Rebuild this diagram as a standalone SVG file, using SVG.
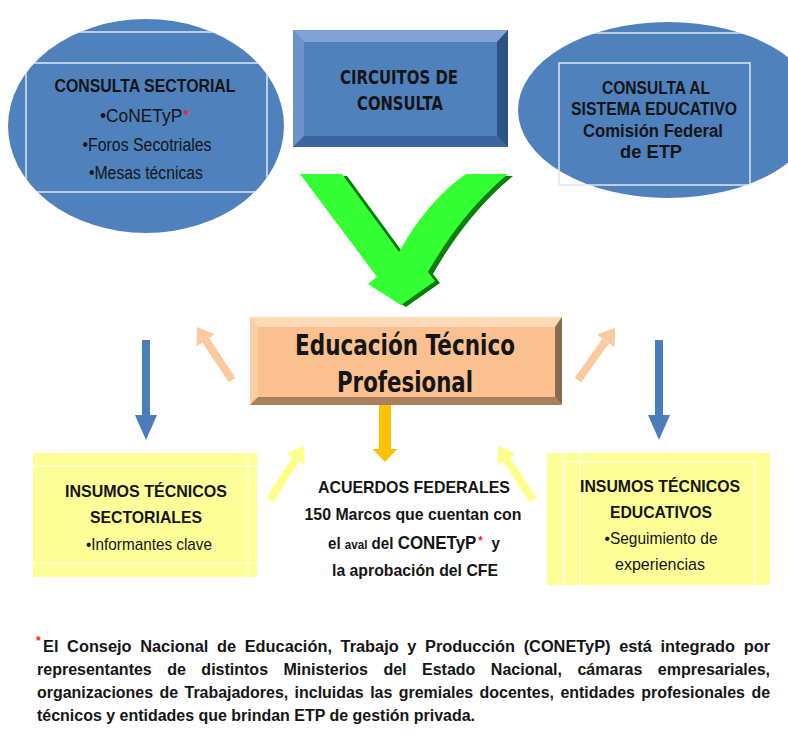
<svg xmlns="http://www.w3.org/2000/svg" width="788" height="742" viewBox="0 0 788 742">
<defs>
<style>
.b{font-family:"Liberation Sans",Arial,sans-serif;font-weight:bold;fill:#151515}
.r{font-family:"Liberation Sans",Arial,sans-serif;font-weight:normal;fill:#151515}
.t{font-family:"DejaVu Sans","Liberation Sans",sans-serif;font-weight:bold;fill:#151515}
.red{fill:#ff1a1a;font-family:"Liberation Sans",Arial,sans-serif;font-weight:bold}
.ell{fill:#4f81bd}
.wl{stroke:#dfe8f4;stroke-width:1.5;fill:none}
.yl{stroke:#ffffff;stroke-width:1.2;fill:none;opacity:0.8}
.ybox{fill:#ffff99}
.fn{font-family:"Liberation Sans",Arial,sans-serif;font-weight:bold;fill:#151515;font-size:16px}
</style>
<clipPath id="cl"><ellipse cx="146" cy="126" rx="138" ry="107"/></clipPath>
<clipPath id="cr"><ellipse cx="668" cy="110" rx="150" ry="88"/></clipPath>
<marker id="mBlue" markerUnits="userSpaceOnUse" markerWidth="25" markerHeight="22" viewBox="0 0 25 22" refX="0" refY="11" orient="auto"><path d="M0,0 L25,11 L0,22 Z" fill="#4a7ebb"/></marker>
<marker id="mPeach" markerUnits="userSpaceOnUse" markerWidth="16" markerHeight="22" viewBox="0 0 16 22" refX="0" refY="11" orient="auto"><path d="M0,0 L16,11 L0,22 Z" fill="#fcca9c"/></marker>
<marker id="mYellow" markerUnits="userSpaceOnUse" markerWidth="16" markerHeight="22" viewBox="0 0 16 22" refX="0" refY="11" orient="auto"><path d="M0,0 L16,11 L0,22 Z" fill="#ffff8c"/></marker>
<marker id="mOrange" markerUnits="userSpaceOnUse" markerWidth="13" markerHeight="25" viewBox="0 0 13 25" refX="0" refY="12.5" orient="auto"><path d="M0,0 L13,12.5 L0,25 Z" fill="#ffc000"/></marker>
</defs>
<rect width="788" height="742" fill="#ffffff"/>

<g id="n-consulta-sectorial">
<ellipse class="ell" cx="146" cy="126" rx="138" ry="107"/>
<g clip-path="url(#cl)">
<line class="wl" x1="0" y1="32" x2="300" y2="32"/>
<line class="wl" x1="0" y1="63" x2="300" y2="63"/>
<line class="wl" x1="0" y1="192" x2="300" y2="192"/>
<line class="wl" x1="26" y1="63" x2="26" y2="192"/>
<line class="wl" x1="267" y1="63" x2="267" y2="192"/>
</g>
<text class="b" x="145" y="92" font-size="18" text-anchor="middle" textLength="181" lengthAdjust="spacingAndGlyphs">CONSULTA SECTORIAL</text>
<text class="r" x="100" y="122" font-size="18" textLength="89" lengthAdjust="spacingAndGlyphs">•CoNETyP<tspan class="red" font-size="13" dx="2" dy="-3">*</tspan></text>
<text class="r" x="147" y="151" font-size="18" text-anchor="middle" textLength="129" lengthAdjust="spacingAndGlyphs">•Foros Secotriales</text>
<text class="r" x="146" y="179" font-size="18" text-anchor="middle" textLength="114" lengthAdjust="spacingAndGlyphs">•Mesas técnicas</text>
</g>

<g id="n-circuitos">
<rect x="293" y="30" width="215" height="117" fill="#4f81bd"/>
<polygon points="293,30 508,30 497,42 304,42" fill="#7fa3d6"/>
<polygon points="293,30 304,42 304,136 293,147" fill="#6c94ca"/>
<polygon points="508,30 508,147 497,136 497,42" fill="#2f5285"/>
<polygon points="293,147 508,147 497,136 304,136" fill="#3c649d"/>
<rect x="304" y="42" width="193" height="94" fill="#4f81bd"/>
<text class="t" x="399" y="84" font-size="19" text-anchor="middle" textLength="118" lengthAdjust="spacingAndGlyphs">CIRCUITOS DE</text>
<text class="t" x="400" y="110" font-size="19" text-anchor="middle" textLength="86" lengthAdjust="spacingAndGlyphs">CONSULTA</text>
</g>

<g id="n-consulta-educativo">
<ellipse class="ell" cx="668" cy="110" rx="150" ry="88"/>
<g clip-path="url(#cr)">
<line class="wl" x1="500" y1="33" x2="788" y2="33"/>
</g>
<rect x="559" y="63" width="191" height="122" fill="none" stroke="#dfe8f4" stroke-width="1.5"/>
<text class="b" x="656" y="94" font-size="18" text-anchor="middle" textLength="108" lengthAdjust="spacingAndGlyphs">CONSULTA AL</text>
<text class="b" x="654" y="115" font-size="18" text-anchor="middle" textLength="166" lengthAdjust="spacingAndGlyphs">SISTEMA EDUCATIVO</text>
<text class="b" x="653" y="137" font-size="18" text-anchor="middle" textLength="140" lengthAdjust="spacingAndGlyphs">Comisión Federal</text>
<text class="b" x="651" y="158" font-size="18" text-anchor="middle" textLength="62" lengthAdjust="spacingAndGlyphs">de ETP</text>
</g>

<g id="n-etp">
<rect x="250" y="317" width="312" height="88" fill="#fac090"/>
<polygon points="250,317 562,317 555,327 258,327" fill="#fdd9b8"/>
<polygon points="250,317 258,327 258,397 250,405" fill="#fbcfa6"/>
<polygon points="562,317 562,405 555,397 555,327" fill="#8a6a4e"/>
<polygon points="250,405 562,405 555,397 258,397" fill="#a8815c"/>
<rect x="258" y="327" width="297" height="70" fill="#fac090"/>
<text class="t" x="405" y="355" font-size="28" text-anchor="middle" textLength="220" lengthAdjust="spacingAndGlyphs">Educación Técnico</text>
<text class="t" x="405" y="392" font-size="28" text-anchor="middle" textLength="136" lengthAdjust="spacingAndGlyphs">Profesional</text>
</g>

<g id="n-insumos-sectoriales">
<rect class="ybox" x="33" y="453" width="224" height="124"/>
<line class="yl" x1="33" y1="466" x2="257" y2="466"/>
<line class="yl" x1="33" y1="563" x2="257" y2="563"/>
<line class="yl" x1="248" y1="453" x2="248" y2="577"/>
<text class="b" x="146" y="497" font-size="17" text-anchor="middle" textLength="162" lengthAdjust="spacingAndGlyphs">INSUMOS TÉCNICOS</text>
<text class="b" x="146" y="523" font-size="17" text-anchor="middle" textLength="112" lengthAdjust="spacingAndGlyphs">SECTORIALES</text>
<text class="r" x="149" y="550" font-size="17" text-anchor="middle" textLength="126" lengthAdjust="spacingAndGlyphs">•Informantes clave</text>
</g>

<g id="n-acuerdos">
<text class="b" x="414" y="493" font-size="17" text-anchor="middle" textLength="192" lengthAdjust="spacingAndGlyphs">ACUERDOS FEDERALES</text>
<text class="b" x="413" y="520" font-size="17" text-anchor="middle" textLength="217" lengthAdjust="spacingAndGlyphs">150 Marcos que cuentan con</text>
<text class="b" x="328" y="549" font-size="17" textLength="172" lengthAdjust="spacingAndGlyphs">el <tspan font-size="13">aval</tspan> del <tspan font-size="19">CONETyP</tspan><tspan class="red" font-size="13" dx="2" dy="-4">*</tspan><tspan dy="4" dx="10">y</tspan></text>
<text class="b" x="415" y="576" font-size="17" text-anchor="middle" textLength="166" lengthAdjust="spacingAndGlyphs">la aprobación del CFE</text>
</g>

<g id="n-insumos-educativos">
<rect class="ybox" x="547" y="453" width="223" height="132"/>
<line class="yl" x1="563" y1="453" x2="563" y2="585"/>
<line class="yl" x1="580" y1="453" x2="580" y2="585"/>
<rect class="yl" x="565" y="462" width="190" height="130"/>
<text class="b" x="660" y="492" font-size="17" text-anchor="middle" textLength="160" lengthAdjust="spacingAndGlyphs">INSUMOS TÉCNICOS</text>
<text class="b" x="661" y="518" font-size="17" text-anchor="middle" textLength="102" lengthAdjust="spacingAndGlyphs">EDUCATIVOS</text>
<text class="r" x="661" y="544" font-size="17" text-anchor="middle" textLength="113" lengthAdjust="spacingAndGlyphs">•Seguimiento de</text>
<text class="r" x="660" y="570" font-size="17" text-anchor="middle" textLength="90" lengthAdjust="spacingAndGlyphs">experiencias</text>
</g>

<g id="connectors">
<path d="M300,174 L342,174 L399,252 Q428,200 466,174 L508,174 Q462,212 428,272 L435,281 L401,305 L368,284 L377,277 Z" fill="#0b7d0b" transform="translate(5,2)"/>
<path d="M300,174 L342,174 L399,252 Q428,200 466,174 L508,174 Q462,212 428,272 L435,281 L401,305 L368,284 L377,277 Z" fill="#33ff33"/>
<line x1="146" y1="340" x2="146" y2="415" stroke="#4a7ebb" stroke-width="8" marker-end="url(#mBlue)"/>
<line x1="659" y1="340" x2="659" y2="415" stroke="#4a7ebb" stroke-width="8" marker-end="url(#mBlue)"/>
<line x1="232" y1="380" x2="205.8" y2="340.3" stroke="#fcca9c" stroke-width="8" marker-end="url(#mPeach)"/>
<line x1="578" y1="380" x2="605.7" y2="341" stroke="#fcca9c" stroke-width="8" marker-end="url(#mPeach)"/>
<line x1="270" y1="500" x2="295.5" y2="459.5" stroke="#ffff8c" stroke-width="8" marker-end="url(#mYellow)"/>
<line x1="533" y1="500" x2="506.7" y2="459.4" stroke="#ffff8c" stroke-width="8" marker-end="url(#mYellow)"/>
<line x1="385" y1="405" x2="385" y2="449" stroke="#ffc000" stroke-width="12" marker-end="url(#mOrange)"/>
</g>

<g id="n-footnote">
<text class="red" x="36" y="645" font-size="12">*</text>
<text class="fn" x="43" y="652" textLength="727" lengthAdjust="spacingAndGlyphs" word-spacing="4">El Consejo Nacional de Educación, Trabajo y Producción (CONETyP) está integrado por</text>
<text class="fn" x="37" y="675" textLength="733" lengthAdjust="spacingAndGlyphs" word-spacing="11">representantes de distintos Ministerios del Estado Nacional, cámaras empresariales,</text>
<text class="fn" x="37" y="698" textLength="733" lengthAdjust="spacingAndGlyphs" word-spacing="2">organizaciones de Trabajadores, incluidas las gremiales docentes, entidades profesionales de</text>
<text class="fn" x="37" y="721" textLength="438" lengthAdjust="spacingAndGlyphs">técnicos y entidades que brindan ETP de gestión privada.</text>
</g>
</svg>
